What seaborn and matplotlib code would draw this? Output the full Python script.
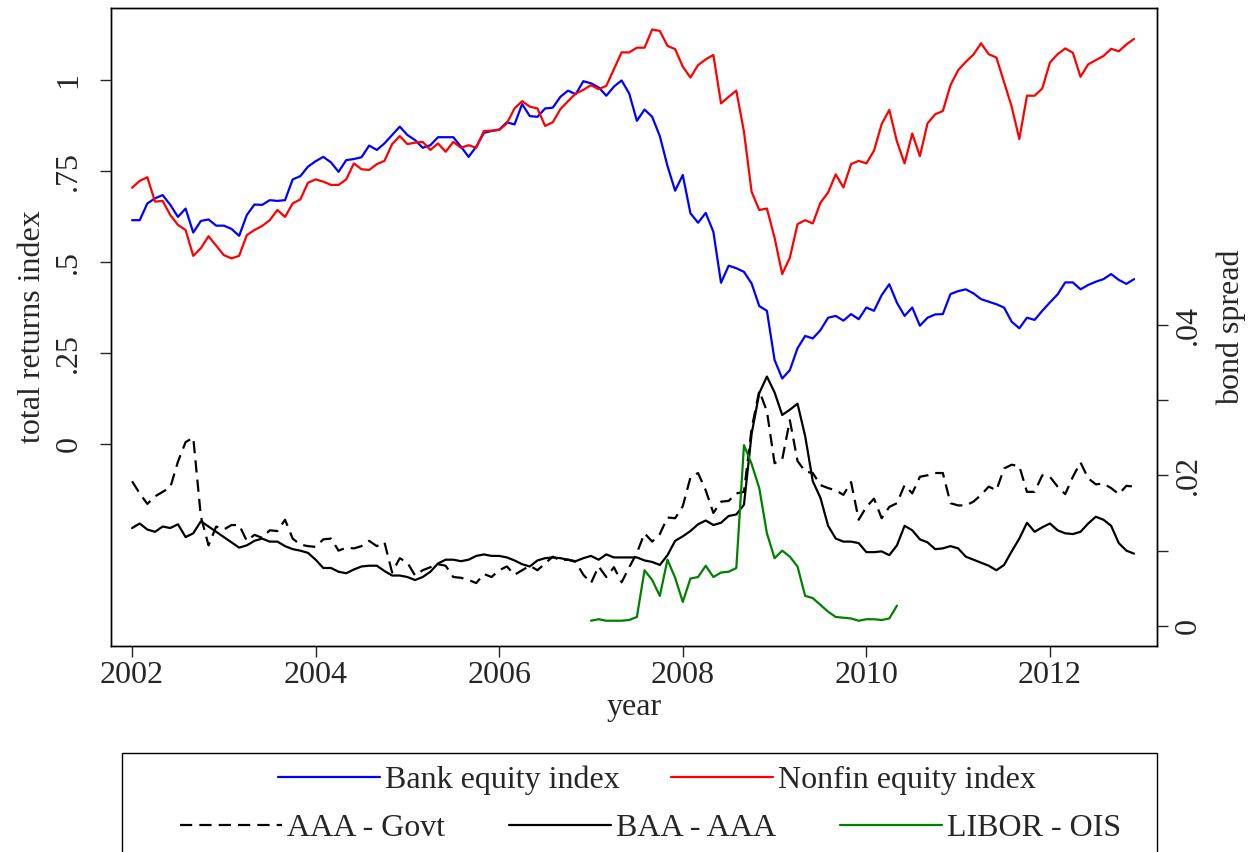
import numpy as np
import pandas as pd
import seaborn as sns
import matplotlib.pyplot as plt
from matplotlib.patches import Rectangle

# monthly observations, Jan 2002 - Dec 2012
months = pd.date_range("2002-01-01", periods=132, freq="MS")
year = np.asarray(months.year + (months.month - 1) / 12)

# --- total returns indices (left axis) ---
bank_equity = [
    0.615, 0.615, 0.661, 0.675, 0.684, 0.657, 0.624, 0.647, 0.581, 0.613, 0.617, 0.600,
    0.600, 0.591, 0.572, 0.629, 0.658, 0.657, 0.670, 0.668, 0.670, 0.727, 0.736, 0.762,
    0.777, 0.789, 0.774, 0.748, 0.780, 0.783, 0.788, 0.820, 0.808, 0.826, 0.849, 0.872,
    0.849, 0.835, 0.814, 0.821, 0.843, 0.843, 0.843, 0.817, 0.789, 0.817, 0.855, 0.860,
    0.864, 0.884, 0.878, 0.934, 0.901, 0.899, 0.922, 0.924, 0.954, 0.971, 0.961, 0.997,
    0.991, 0.980, 0.957, 0.982, 0.999, 0.963, 0.888, 0.919, 0.899, 0.846, 0.764, 0.696,
    0.739, 0.634, 0.608, 0.635, 0.583, 0.443, 0.490, 0.483, 0.473, 0.441, 0.379, 0.366,
    0.231, 0.180, 0.203, 0.263, 0.297, 0.290, 0.313, 0.347, 0.352, 0.339, 0.357, 0.343,
    0.375, 0.366, 0.409, 0.439, 0.388, 0.352, 0.375, 0.325, 0.347, 0.356, 0.357, 0.412,
    0.420, 0.425, 0.414, 0.398, 0.391, 0.384, 0.375, 0.336, 0.318, 0.347, 0.341, 0.366,
    0.389, 0.411, 0.444, 0.444, 0.425, 0.437, 0.446, 0.453, 0.467, 0.451, 0.440, 0.453,
]
nonfin_equity = [
    0.704, 0.723, 0.733, 0.666, 0.668, 0.629, 0.602, 0.588, 0.517, 0.538, 0.571, 0.545,
    0.519, 0.510, 0.517, 0.574, 0.588, 0.599, 0.615, 0.643, 0.624, 0.661, 0.672, 0.718,
    0.727, 0.721, 0.712, 0.712, 0.727, 0.771, 0.755, 0.753, 0.769, 0.778, 0.824, 0.846,
    0.824, 0.828, 0.830, 0.808, 0.826, 0.803, 0.830, 0.814, 0.821, 0.814, 0.860, 0.861,
    0.863, 0.881, 0.922, 0.942, 0.927, 0.922, 0.874, 0.884, 0.920, 0.942, 0.963, 0.973,
    0.986, 0.975, 0.984, 1.030, 1.076, 1.076, 1.089, 1.089, 1.139, 1.135, 1.094, 1.085,
    1.037, 1.007, 1.041, 1.057, 1.069, 0.936, 0.954, 0.971, 0.858, 0.693, 0.643, 0.647,
    0.567, 0.467, 0.512, 0.604, 0.615, 0.606, 0.663, 0.691, 0.741, 0.705, 0.769, 0.778,
    0.771, 0.806, 0.879, 0.918, 0.831, 0.771, 0.853, 0.791, 0.881, 0.906, 0.915, 0.986,
    1.027, 1.050, 1.070, 1.101, 1.071, 1.062, 0.995, 0.927, 0.838, 0.957, 0.957, 0.977,
    1.048, 1.071, 1.087, 1.075, 1.009, 1.043, 1.055, 1.066, 1.086, 1.079, 1.098, 1.113,
]

# --- bond spreads (right axis) ---
aaa_govt = [
    0.0192, 0.0176, 0.0162, 0.0172, 0.0178, 0.0184, 0.0218, 0.0244, 0.0250, 0.0145, 0.0107, 0.0132,
    0.0128, 0.0134, 0.0134, 0.0113, 0.0121, 0.0117, 0.0127, 0.0126, 0.0141, 0.0116, 0.0108, 0.0106,
    0.0105, 0.0115, 0.0116, 0.0100, 0.0104, 0.0103, 0.0106, 0.0113, 0.0106, 0.0111, 0.0071, 0.0090,
    0.0084, 0.0067, 0.0074, 0.0078, 0.0082, 0.0080, 0.0065, 0.0064, 0.0061, 0.0057, 0.0069, 0.0065,
    0.0074, 0.0079, 0.0068, 0.0074, 0.0080, 0.0074, 0.0083, 0.0092, 0.0087, 0.0088, 0.0085, 0.0068,
    0.0057, 0.0079, 0.0065, 0.0078, 0.0058, 0.0078, 0.0097, 0.0123, 0.0112, 0.0122, 0.0144, 0.0143,
    0.0159, 0.0197, 0.0203, 0.0180, 0.0150, 0.0165, 0.0166, 0.0176, 0.0178, 0.0262, 0.0312, 0.0285,
    0.0216, 0.0221, 0.0273, 0.0219, 0.0205, 0.0203, 0.0187, 0.0183, 0.0180, 0.0174, 0.0191, 0.0141,
    0.0158, 0.0169, 0.0143, 0.0158, 0.0163, 0.0187, 0.0176, 0.0198, 0.0200, 0.0203, 0.0203, 0.0163,
    0.0160, 0.0160, 0.0165, 0.0174, 0.0185, 0.0180, 0.0209, 0.0214, 0.0212, 0.0178, 0.0178, 0.0200,
    0.0198, 0.0185, 0.0175, 0.0198, 0.0217, 0.0196, 0.0188, 0.0189, 0.0183, 0.0175, 0.0186, 0.0185,
]
baa_aaa = [
    0.0130, 0.0136, 0.0128, 0.0125, 0.0132, 0.0130, 0.0135, 0.0118, 0.0123, 0.0139, 0.0132, 0.0125,
    0.0118, 0.0111, 0.0104, 0.0107, 0.0113, 0.0116, 0.0112, 0.0112, 0.0106, 0.0102, 0.0100, 0.0097,
    0.0088, 0.0077, 0.0077, 0.0072, 0.0070, 0.0075, 0.0079, 0.0080, 0.0080, 0.0073, 0.0067, 0.0067,
    0.0065, 0.0061, 0.0065, 0.0072, 0.0083, 0.0088, 0.0088, 0.0086, 0.0088, 0.0093, 0.0095, 0.0093,
    0.0093, 0.0091, 0.0087, 0.0082, 0.0079, 0.0087, 0.0090, 0.0091, 0.0090, 0.0088, 0.0086, 0.0090,
    0.0093, 0.0088, 0.0095, 0.0091, 0.0091, 0.0091, 0.0091, 0.0087, 0.0085, 0.0081, 0.0094, 0.0113,
    0.0119, 0.0126, 0.0135, 0.0140, 0.0134, 0.0137, 0.0146, 0.0148, 0.0161, 0.0255, 0.0309, 0.0331,
    0.0310, 0.0280, 0.0287, 0.0295, 0.0252, 0.0192, 0.0170, 0.0133, 0.0116, 0.0112, 0.0112, 0.0110,
    0.0098, 0.0098, 0.0099, 0.0094, 0.0107, 0.0133, 0.0127, 0.0115, 0.0111, 0.0102, 0.0103, 0.0106,
    0.0103, 0.0092, 0.0088, 0.0084, 0.0080, 0.0074, 0.0081, 0.0099, 0.0116, 0.0137, 0.0125, 0.0131,
    0.0136, 0.0127, 0.0123, 0.0122, 0.0125, 0.0136, 0.0145, 0.0141, 0.0133, 0.0110, 0.0100, 0.0096,
]
# LIBOR-OIS only available Jan 2007 - May 2010
libor_ois = [
    0.0007, 0.0009, 0.0007, 0.0007, 0.0007, 0.0008, 0.0012, 0.0074, 0.0061, 0.0040, 0.0088, 0.0064,
    0.0032, 0.0063, 0.0065, 0.0080, 0.0065, 0.0071, 0.0072, 0.0077, 0.0240, 0.0215, 0.0183, 0.0123,
    0.0090, 0.0100, 0.0092, 0.0079, 0.0040, 0.0037, 0.0028, 0.0019, 0.0012, 0.0011, 0.0010, 0.0007,
    0.0009, 0.0009, 0.0008, 0.0010, 0.0027,
]
libor_year = year[60:60 + len(libor_ois)]

left_ticks = [0, 0.25, 0.5, 0.75, 1]
left_labels = ["0", ".25", ".5", ".75", "1"]
right_ticks = [0, 0.01, 0.02, 0.03, 0.04]
right_labels = ["0", "", ".02", "", ".04"]
year_ticks = [2002, 2004, 2006, 2008, 2010, 2012]

sns.set_style("white")
plt.rcParams["font.family"] = ["Liberation Serif", "DejaVu Serif"]
fs = 23

fig = plt.figure(figsize=(12.49, 8.52), dpi=100)
ax = fig.add_axes([0.0889, 0.2418, 0.8374, 0.7488])
ax2 = ax.twinx()

lw = 1.6
sns.lineplot(x=year, y=bank_equity, ax=ax, color="#0000ff", linewidth=lw)
sns.lineplot(x=year, y=nonfin_equity, ax=ax, color="#ff0000", linewidth=lw)
sns.lineplot(x=year, y=aaa_govt, ax=ax2, color="black", linewidth=lw, linestyle=(0, (5.5, 3.2)))
sns.lineplot(x=year, y=baa_aaa, ax=ax2, color="black", linewidth=lw)
sns.lineplot(x=libor_year, y=libor_ois, ax=ax2, color="#008000", linewidth=lw)

h_eq = ax.get_lines()
h_sp = ax2.get_lines()

# axes, ticks
ax.set_xlim(2001.771, 2013.166)
ax.set_ylim(-0.555, 1.198)
ax2.set_ylim(-0.00265, 0.0820)
ax.set_xticks(year_ticks)
ax.set_xticklabels([str(y) for y in year_ticks])
ax.set_yticks(left_ticks)
ax.set_yticklabels(left_labels, rotation=90, va="center")
ax2.set_yticks(right_ticks)
ax2.set_yticklabels(right_labels, rotation=90, va="center")

ax.tick_params(axis="x", direction="out", length=8, width=1, labelsize=fs, pad=3, bottom=True)
ax.tick_params(axis="y", direction="out", length=8, width=1, labelsize=fs, pad=12, left=True)
ax2.tick_params(axis="y", direction="out", length=8, width=1, labelsize=fs, pad=4, right=True)

ax.set_xlabel("year", fontsize=fs, labelpad=2)
ax.set_ylabel("total returns index", fontsize=fs, labelpad=5)
ax2.set_ylabel("bond spread", fontsize=fs, labelpad=10)

for a in (ax, ax2):
    for s in a.spines.values():
        s.set_color("black")
        s.set_linewidth(1.0)

# legend: two rows inside one box below the plot
legend_style = dict(frameon=False, fontsize=fs, handlelength=3.2, handletextpad=0.15, loc="center")
fig.legend(h_eq, ["Bank equity index", "Nonfin equity index"], ncol=2, columnspacing=1.6,
           bbox_to_anchor=(0.526, 0.0845), **legend_style)
fig.legend(h_sp, ["AAA - Govt", "BAA - AAA", "LIBOR - OIS"], ncol=3, columnspacing=2.0,
           bbox_to_anchor=(0.521, 0.028), **legend_style)
fig.add_artist(Rectangle((0.0977, -0.02), 0.926 - 0.0977, 0.1162 + 0.02,
                         transform=fig.transFigure, fill=False, edgecolor="black", linewidth=1.0))

fig.savefig("out.png", dpi=100)
